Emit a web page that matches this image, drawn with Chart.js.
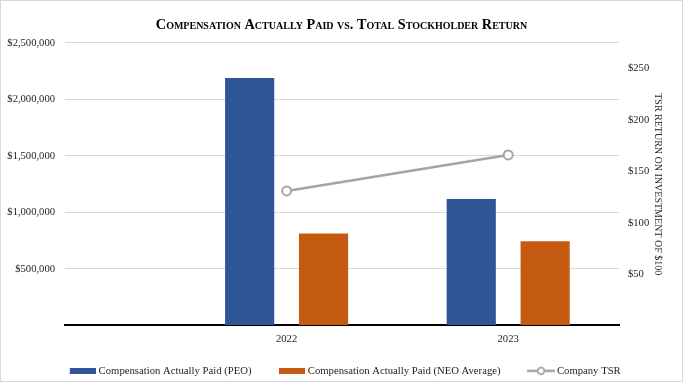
<!DOCTYPE html>
<html>
<head>
<meta charset="utf-8">
<script src="https://cdn.jsdelivr.net/npm/chart.js@4.4.1/dist/chart.umd.min.js"></script>
<style>
html,body{margin:0;padding:0;background:#fff;}
#wrap{position:relative;width:683px;height:382px;}
canvas{display:block;}
</style>
</head>
<body>
<div id="wrap"><canvas id="c" width="683" height="382"></canvas></div>
<script>
// ---- data ----
const years = ['2022', '2023'];
const peoCap = [2190000, 1120000];
const neoCap = [813000, 745000];
const companyTsr = [131, 166];
const leftTickStep = 500000;
const leftMax = 2500000;
const rightTickStep = 50;
const rightMax = 275;
const seriesNames = ['Compensation Actually Paid (PEO)', 'Compensation Actually Paid (NEO Average)', 'Company TSR'];
const titleText = 'Compensation Actually Paid vs. Total Stockholder Return';
const rightAxisTitle = 'TSR RETURN ON INVESTMENT OF $100';

// ---- styling ----
const BLUE = '#2F5597', ORANGE = '#C55A11', GRAY = '#A5A5A5';
const SERIF = "'Liberation Serif', 'Times New Roman', serif";
const TXT = '#1e1e1e';

// legend glyphs (transparent margin on the left to widen item spacing)
function boxImg(color) {
  const c = document.createElement('canvas');
  c.width = 36; c.height = 6;
  const g = c.getContext('2d');
  g.fillStyle = color; g.fillRect(10, 0, 26, 6);
  return c;
}
function lineImg(color) {
  const c = document.createElement('canvas');
  c.width = 38; c.height = 10;
  const g = c.getContext('2d');
  g.strokeStyle = color; g.lineWidth = 2.5;
  g.beginPath(); g.moveTo(10, 5); g.lineTo(38, 5); g.stroke();
  g.beginPath(); g.arc(24, 5, 3.3, 0, Math.PI * 2);
  g.fillStyle = '#fff'; g.fill(); g.lineWidth = 1.8; g.stroke();
  return c;
}
const legendImgs = [boxImg(BLUE), boxImg(ORANGE), lineImg(GRAY)];

const xy = (arr) => arr.map((v, i) => ({ x: i + 1, y: v }));

const frame = {
  id: 'frame',
  beforeDraw(chart) {
    const ctx = chart.ctx;
    ctx.save();
    ctx.fillStyle = '#fff';
    ctx.fillRect(0, 0, chart.width, chart.height);
    ctx.restore();
  },
  afterDraw(chart) {
    const ctx = chart.ctx;
    ctx.save();
    ctx.strokeStyle = '#d9d9d9';
    ctx.lineWidth = 1;
    ctx.strokeRect(0.5, 0.5, chart.width - 1, chart.height - 1);
    ctx.restore();
  }
};

Chart.defaults.font.family = SERIF;
Chart.defaults.color = TXT;

new Chart(document.getElementById('c'), {
  data: {
    datasets: [
      {
        type: 'bar', label: seriesNames[0], data: xy(peoCap),
        backgroundColor: BLUE, yAxisID: 'y', order: 1,
        categoryPercentage: 0.667, barPercentage: 0.665
      },
      {
        type: 'bar', label: seriesNames[1], data: xy(neoCap),
        backgroundColor: ORANGE, yAxisID: 'y', order: 1,
        categoryPercentage: 0.667, barPercentage: 0.665
      },
      {
        type: 'line', label: seriesNames[2], data: xy(companyTsr),
        borderColor: GRAY, borderWidth: 2.5, yAxisID: 'y1', order: 0,
        pointRadius: 4.5, pointBackgroundColor: '#fff', pointBorderColor: GRAY,
        pointBorderWidth: 2, fill: false, tension: 0
      }
    ]
  },
  options: {
    responsive: false,
    animation: false,
    devicePixelRatio: 1,
    layout: { padding: { left: 0, right: 0, top: 0, bottom: 0 } },
    plugins: {
      title: {
        display: true,
        text: titleText,
        color: '#000',
        font: { family: SERIF, size: 14.3, weight: 'small-caps bold', lineHeight: 1.2 },
        padding: { top: 17, bottom: 8.8 }
      },
      legend: {
        position: 'bottom',
        maxHeight: 36.5,
        labels: {
          usePointStyle: true,
          pointStyleWidth: 31,
          padding: 20,
          color: TXT,
          font: { family: SERIF, size: 10.7 },
          sort: (a, b) => a.datasetIndex - b.datasetIndex,
          generateLabels: (chart) =>
            Chart.defaults.plugins.legend.labels.generateLabels(chart)
              .map((it) => Object.assign({}, it, { pointStyle: legendImgs[it.datasetIndex] }))
        }
      },
      tooltip: { enabled: false }
    },
    scales: {
      x: {
        type: 'linear',
        position: 'bottom',
        offset: false,
        min: 0,
        max: years.length + 0.5,
        afterBuildTicks: (axis) => { axis.ticks = years.map((y, i) => ({ value: i + 1 })); },
        afterFit: (axis) => { axis.height = 20; },
        grid: { display: false, drawTicks: false },
        border: { display: true, color: '#000', width: 2 },
        ticks: {
          autoSkip: false, maxRotation: 0, padding: 7,
          font: { family: SERIF, size: 10.7 }, color: TXT,
          callback: (v) => years[Math.round(v) - 1] || ''
        }
      },
      y: {
        type: 'linear',
        position: 'left',
        min: 0,
        max: leftMax,
        afterFit: (axis) => { axis.width = 65; },
        grid: { color: '#d9d9d9', lineWidth: 1, drawTicks: false },
        border: { display: false },
        ticks: {
          stepSize: leftTickStep, padding: 10,
          font: { family: SERIF, size: 10.6 }, color: TXT,
          callback: (v) => v === 0 ? '' : '$' + v.toLocaleString('en-US')
        }
      },
      y1: {
        type: 'linear',
        position: 'right',
        min: 0,
        max: rightMax,
        afterFit: (axis) => { axis.width = 64; },
        grid: { display: false, drawTicks: false },
        border: { display: false },
        ticks: {
          stepSize: rightTickStep, padding: 9, includeBounds: false,
          font: { family: SERIF, size: 10.6 }, color: TXT,
          callback: (v) => (v === 0 || v > 250) ? '' : '$' + v
        },
        title: {
          display: true,
          text: rightAxisTitle,
          color: TXT,
          font: { family: SERIF, size: 10 },
          padding: { top: 19, bottom: 0 }
        }
      }
    }
  },
  plugins: [frame]
});
</script>
</body>
</html>
